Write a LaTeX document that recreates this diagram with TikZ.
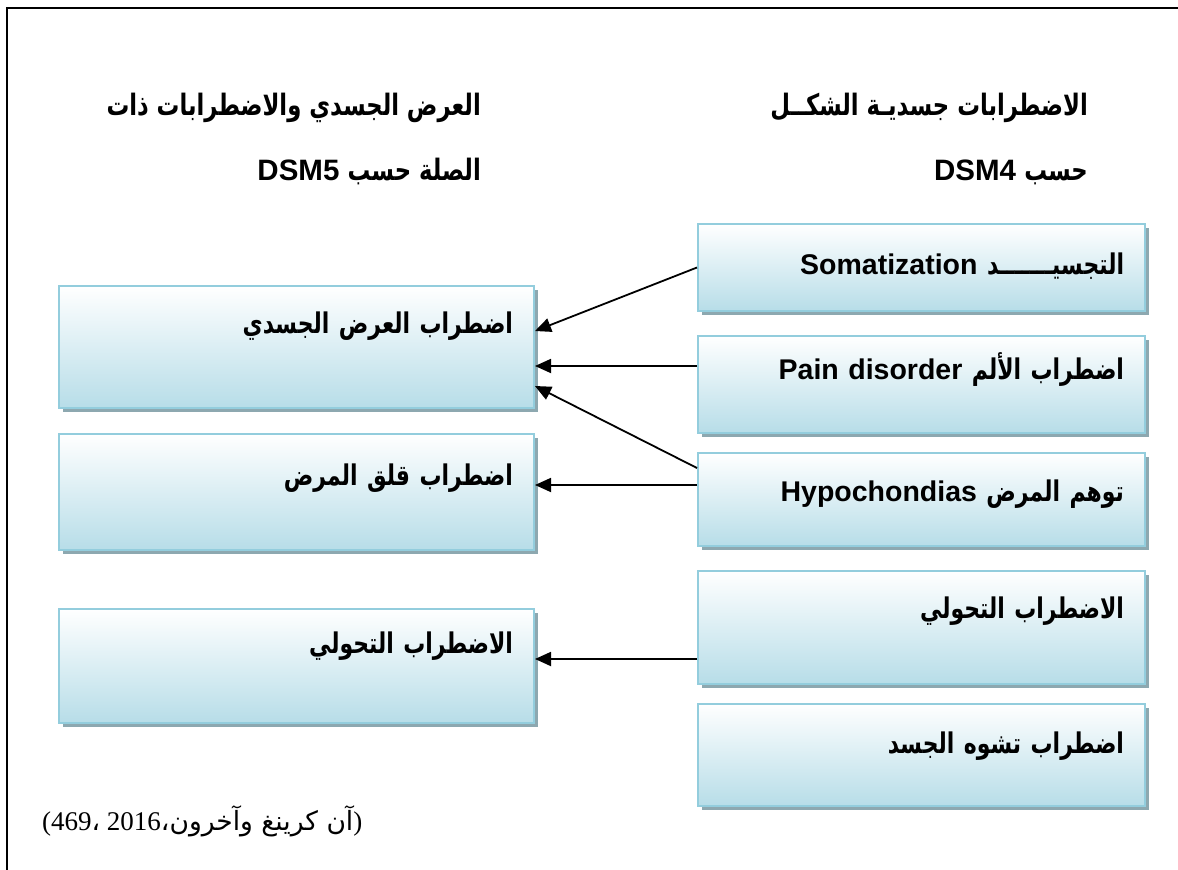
\documentclass[tikz,border=0pt]{standalone}
\usepackage{fontspec}
\setmainfont{Liberation Sans}
\newfontfamily\arfont[Script=Arabic,Scale=1.0,FakeStretch=0.77]{DejaVu Sans}
\newfontfamily\arplain[Script=Arabic]{DejaVu Sans}
\newfontfamily\serifnum{Liberation Serif}
\TeXXeTstate=1
\usetikzlibrary{arrows.meta,shadows}
\definecolor{boxblue}{HTML}{B7DDE8}
\definecolor{boxline}{HTML}{93CDDD}
\definecolor{boxshadow}{HTML}{8DA8B0}
\tikzset{
  box/.style={draw=boxline, line width=2pt, top color=white, bottom color=boxblue,
    drop shadow={shadow xshift=3.5pt, shadow yshift=-3.5pt, fill=boxshadow, opacity=1},
    anchor=north west, inner xsep=21pt, inner ysep=0pt, align=right,
    font=\bfseries\fontsize{28.5}{34}\selectfont},
  rbox/.style={box, text width=405pt},
  lbox/.style={box, text width=433pt},
  link/.style={line width=1.8pt, -{Triangle[length=16pt,width=14pt]}},
  head/.style={font=\bfseries\fontsize{29.5}{34}\selectfont, anchor=base east, inner sep=0pt},
}
\newcommand\ar[1]{{\arplain\fontsize{26.5}{30}\selectfont #1}}
\begin{document}
\begin{tikzpicture}[x=1pt,y=-1pt]
\useasboundingbox (0,0) rectangle (1178,870);
% page frame (top and left edges)
\draw[line width=2.5pt] (1178,8) -- (7,8) -- (7,870);

% column headings
\node[head] (h4a) at (1088,115) {\beginR{\arfont الاضطرابات جسديـة الشكــل}\endR};
\node[head] (h4b) at (1088,180) {\beginR{\arfont حسب} \beginL DSM4\endL\endR};
\node[head] (h5a) at (481,115) {\beginR{\arfont العرض الجسدي والاضطرابات ذات}\endR};
\node[head] (h5b) at (481,180) {\beginR{\arfont الصلة حسب} \beginL DSM5\endL\endR};

% DSM-IV categories
\node[rbox, text height=50pt, text depth=37pt] (r1) at (697,223)
  {\beginR{\arfont التجسيـــــــد} \beginL Somatization\endL\endR};
\node[rbox, text height=43pt, text depth=54pt] (r2) at (697,335)
  {\beginR{\arfont اضطراب الألم} \beginL Pain disorder\endL\endR};
\node[rbox, text height=48pt, text depth=45pt] (r3) at (697,452)
  {\beginR{\arfont توهم المرض} \beginL Hypochondias\endL\endR};
\node[rbox, text height=47pt, text depth=66pt] (r4) at (697,570)
  {\beginR{\arfont الاضطراب التحولي}\endR};
\node[rbox, text height=49pt, text depth=53pt] (r5) at (697,703)
  {\beginR{\arfont اضطراب تشوه الجسد}\endR};

% DSM-5 categories
\node[lbox, text height=47pt, text depth=75pt] (l1) at (58,285)
  {\beginR{\arfont اضطراب العرض الجسدي}\endR};
\node[lbox, text height=51pt, text depth=65pt] (l2) at (58,433)
  {\beginR{\arfont اضطراب قلق المرض}\endR};
\node[lbox, text height=44pt, text depth=70pt] (l3) at (58,608)
  {\beginR{\arfont الاضطراب التحولي}\endR};

% connector start points
\coordinate (r2a) at ([yshift=18.5pt]r2.west);
\coordinate (r3b) at ([yshift=31.5pt]r3.west);
\coordinate (r3a) at ([yshift=14.5pt]r3.west);
\coordinate (r4a) at ([yshift=-31.5pt]r4.west);

% connectors
\draw[link] (r1.west) -- ([yshift=16pt]l1.east);
\draw[link] (r2a) -- (r2a -| l1.east);
\draw[link] (r3b) -- ([yshift=-39pt]l1.east);
\draw[link] (r3a) -- (r3a -| l2.east);
\draw[link] (r4a) -- (r4a -| l3.east);

% source
\node[anchor=base west, inner sep=0pt, font=\serifnum\fontsize{27}{32}\selectfont] (src) at (42,830)
  {(469\ar{،} 2016\ar{،}\beginR\ar{آن كرينغ وآخرون}\endR)};
\end{tikzpicture}
\end{document}
